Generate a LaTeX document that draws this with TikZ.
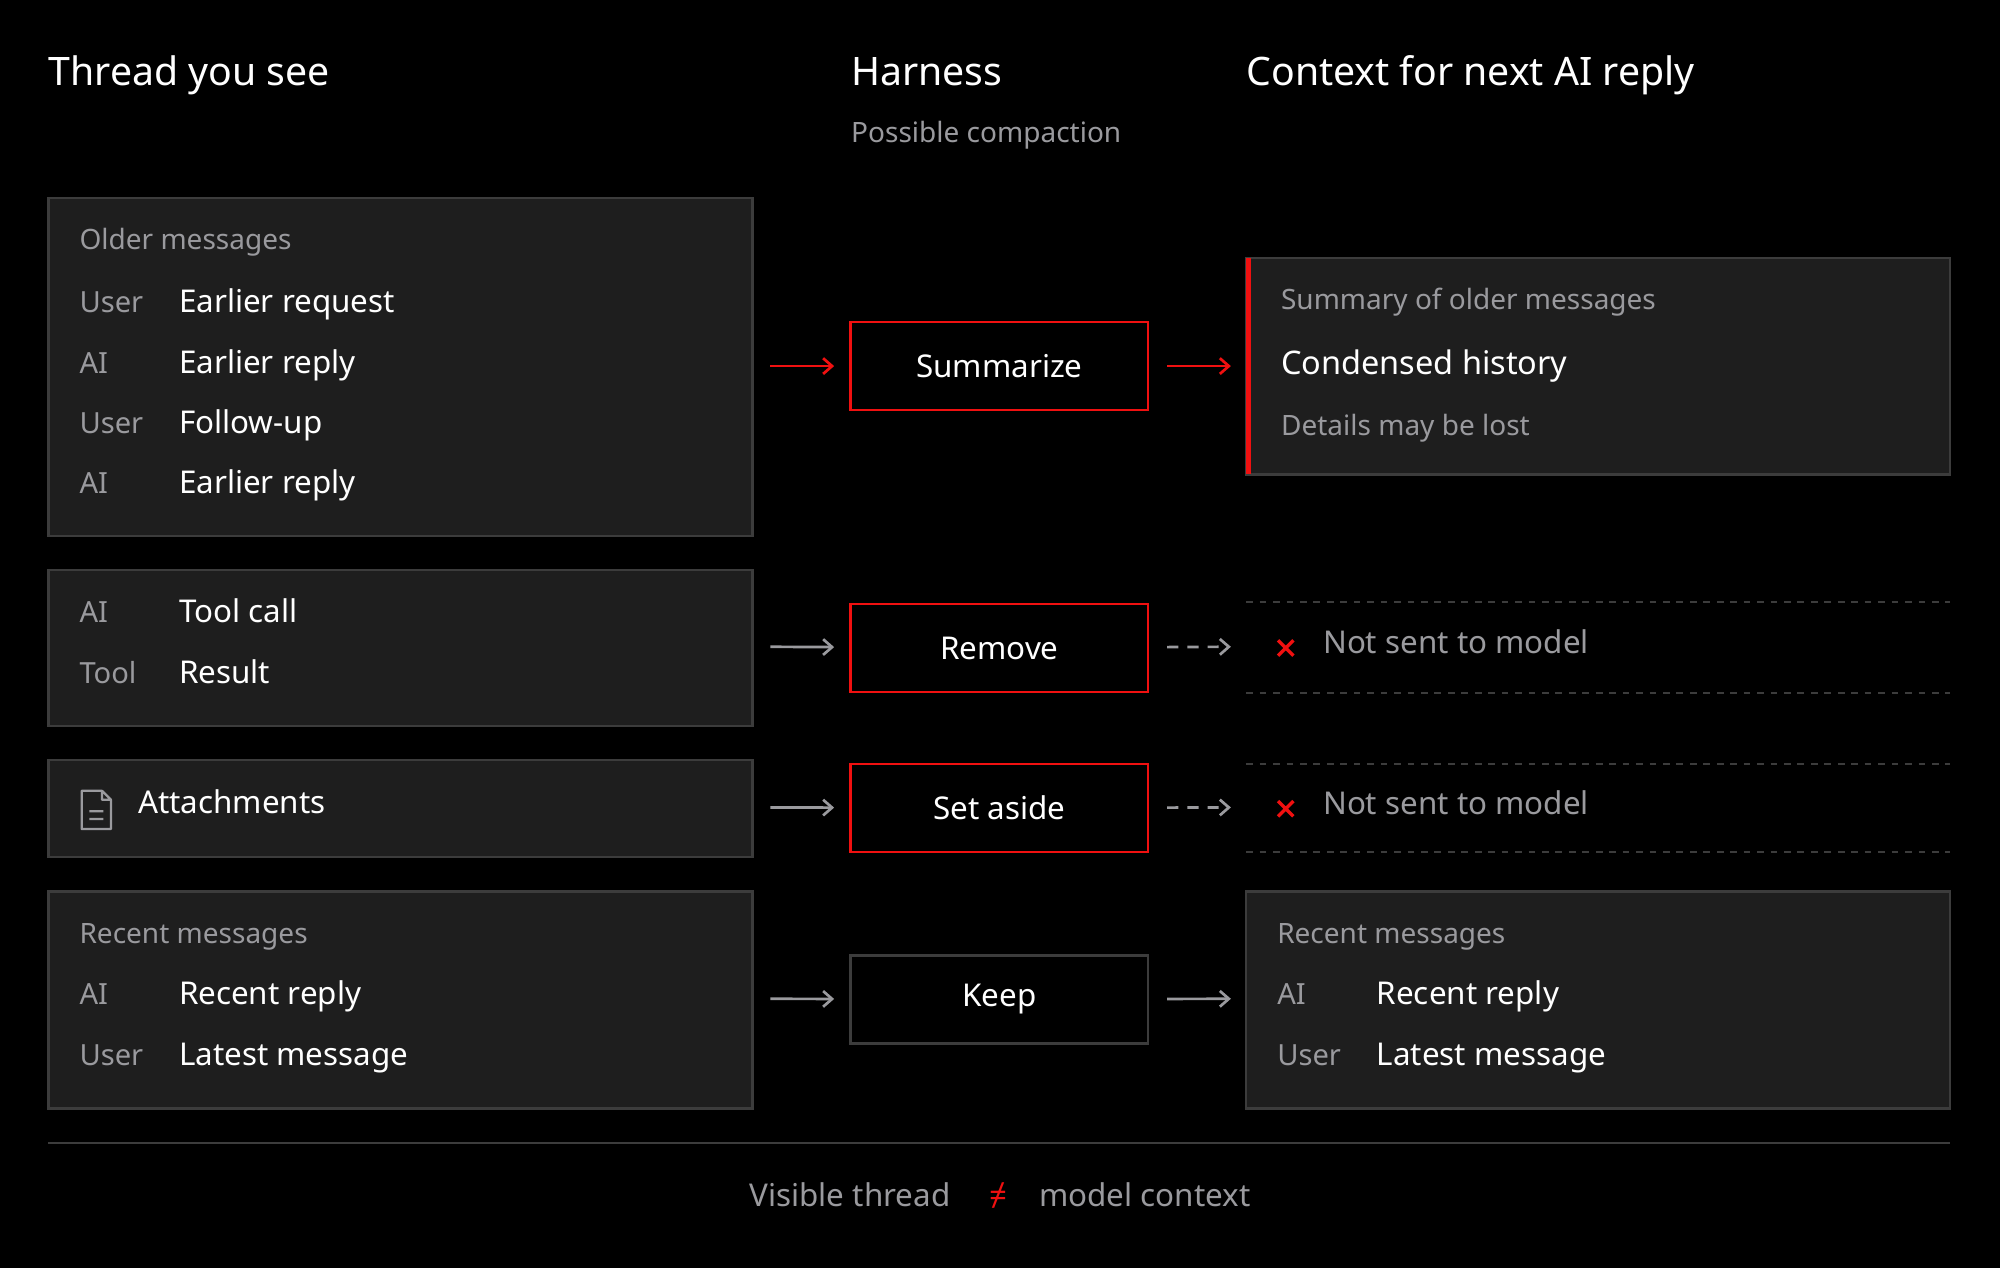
\documentclass[tikz,border=0pt]{standalone}
\usepackage{fontspec}
\setmainfont{Noto Sans}
\usetikzlibrary{arrows.meta,positioning}
\definecolor{panel}{HTML}{1E1E1E}
\definecolor{edge}{HTML}{3C3C3C}
\definecolor{muted}{HTML}{9A9A9E}
\definecolor{hot}{HTML}{F01010}
\begin{document}
\begin{tikzpicture}[x=0.02cm,y=-0.02cm]
\tikzstyle{panelbox}=[draw=edge, fill=panel, line width=1pt]
\tikzstyle{stage}=[rectangle, draw=hot, line width=1.2pt, fill=black, minimum width=233*0.02cm, minimum height=69*0.02cm, text=white, font=\fontsize{14}{16}\selectfont]
\tikzstyle{title}=[anchor=mid west, text=white, inner sep=0, font=\fontsize{17.5}{20}\selectfont]
\tikzstyle{hint}=[anchor=mid west, text=muted, inner sep=0, font=\fontsize{12.5}{15}\selectfont]
\tikzstyle{who}=[anchor=mid west, text=muted, inner sep=0, font=\fontsize{13}{15}\selectfont]
\tikzstyle{msg}=[anchor=mid west, text=white, inner sep=0, font=\fontsize{14}{16}\selectfont]
\tikzstyle{flow}=[-{Straight Barb[length=4pt,width=7pt]}, line width=1.2pt, shorten <=14*0.02cm, shorten >=12*0.02cm]
\fill[black] (0,0) rectangle (1568,994);
\useasboundingbox (0,0) rectangle (1568,994);
% headings
	\node[title] (h_thread) at (38,62) {Thread you see};
	\node[title] (h_harness) at (667,62) {Harness};
	\node[title] (h_context) at (977,62) {Context for next AI reply};
	\node[hint] (h_sub) at (667,107) {Possible compaction};
% left panels
	\draw[panelbox] (38,155) rectangle (590,420); \coordinate (l_1) at (590,287);
	\draw[panelbox] (38,447) rectangle (590,569); \coordinate (l_2) at (590,507);
	\draw[panelbox] (38,596) rectangle (590,672); \coordinate (l_3) at (590,633);
	\draw[panelbox] (38,699) rectangle (590,869); \coordinate (l_4) at (590,783);
	\node[hint] (old) at (62,191) {Older messages};
	\node[who] at (62,240) {User}; \node[msg] at (140,240) {Earlier request};
	\node[who] at (62,288) {AI};   \node[msg] at (140,288) {Earlier reply};
	\node[who] at (62,335) {User}; \node[msg] at (140,335) {Follow-up};
	\node[who] at (62,382) {AI};   \node[msg] at (140,382) {Earlier reply};
	\node[who] at (62,483) {AI};   \node[msg] at (140,483) {Tool call};
	\node[who] at (62,531) {Tool}; \node[msg] at (140,531) {Result};
	\draw[muted, line width=1pt, line join=round] (64,620) -- (80,620) -- (87,627) -- (87,650) -- (64,650) -- cycle
		(80,620) -- (80,627) -- (87,627) (70,636) -- (81,636) (70,642) -- (81,642);
	\node[msg] (att) at (108,633) {Attachments};
	\node[hint] (recent_l) at (62,735) {Recent messages};
	\node[who] at (62,783) {AI};   \node[msg] at (140,783) {Recent reply};
	\node[who] at (62,831) {User}; \node[msg] at (140,831) {Latest message};
% harness steps
	\node[stage] (s_sum) at (783.5,287) {Summarize};
	\node[stage] (s_rem) at (783.5,508) {Remove};
	\node[stage] (s_set) at (783.5,633.5) {Set aside};
	\node[stage, draw=edge] (s_keep) at (783.5,783.5) {Keep};
% context side
	\draw[panelbox] (977,202) rectangle (1529,372);
	\fill[hot] (977,202) rectangle (981,372); \coordinate (r_1) at (977,287);
	\node[hint] at (1004,238) {Summary of older messages};
	\node[msg, font=\fontsize{14.5}{17}\selectfont] at (1004,289) {Condensed history};
	\node[hint] at (1004,337) {Details may be lost};
	\draw[edge, dashed, line width=0.8pt] (977,472) -- (1529,472) (977,543) -- (1529,543)
		(977,599) -- (1529,599) (977,668) -- (1529,668);
	\coordinate (r_2) at (977,507); \coordinate (r_3) at (977,633);
	\foreach \y in {508,634} {
		\draw[hot, line width=1.5pt] (1002,\y-6) -- (1014,\y+6) (1002,\y+6) -- (1014,\y-6);
		\node[msg, text=muted] at (1037,\y) {Not sent to model};
	}
	\draw[panelbox] (977,699) rectangle (1529,869); \coordinate (r_4) at (977,783);
	\node[hint] (recent_r) at (1001,735) {Recent messages};
	\node[who] at (1001,783) {AI};   \node[msg] at (1079,783) {Recent reply};
	\node[who] at (1001,831) {User}; \node[msg] at (1079,831) {Latest message};
% connectors
	\draw[flow, hot] (l_1) -- (s_sum);
	\draw[flow, muted] (l_2) -- (s_rem);
	\draw[flow, muted] (l_3) -- (s_set);
	\draw[flow, muted] (l_4) -- (s_keep);
	\draw[flow, hot] (s_sum) -- (r_1);
	\draw[flow, muted, dash pattern=on 5pt off 4pt] (s_rem) -- (r_2);
	\draw[flow, muted, dash pattern=on 5pt off 4pt] (s_set) -- (r_3);
	\draw[flow, muted] (s_keep) -- (r_4);
% footer
	\draw[edge, line width=1pt] (38,896) -- (1529,896);
	\node[msg, text=muted, font=\fontsize{14}{17}\selectfont, anchor=center] (foot) at (784,937)
		{Visible thread \quad\textcolor{hot}{≠}\quad model context};
\end{tikzpicture}
\end{document}
